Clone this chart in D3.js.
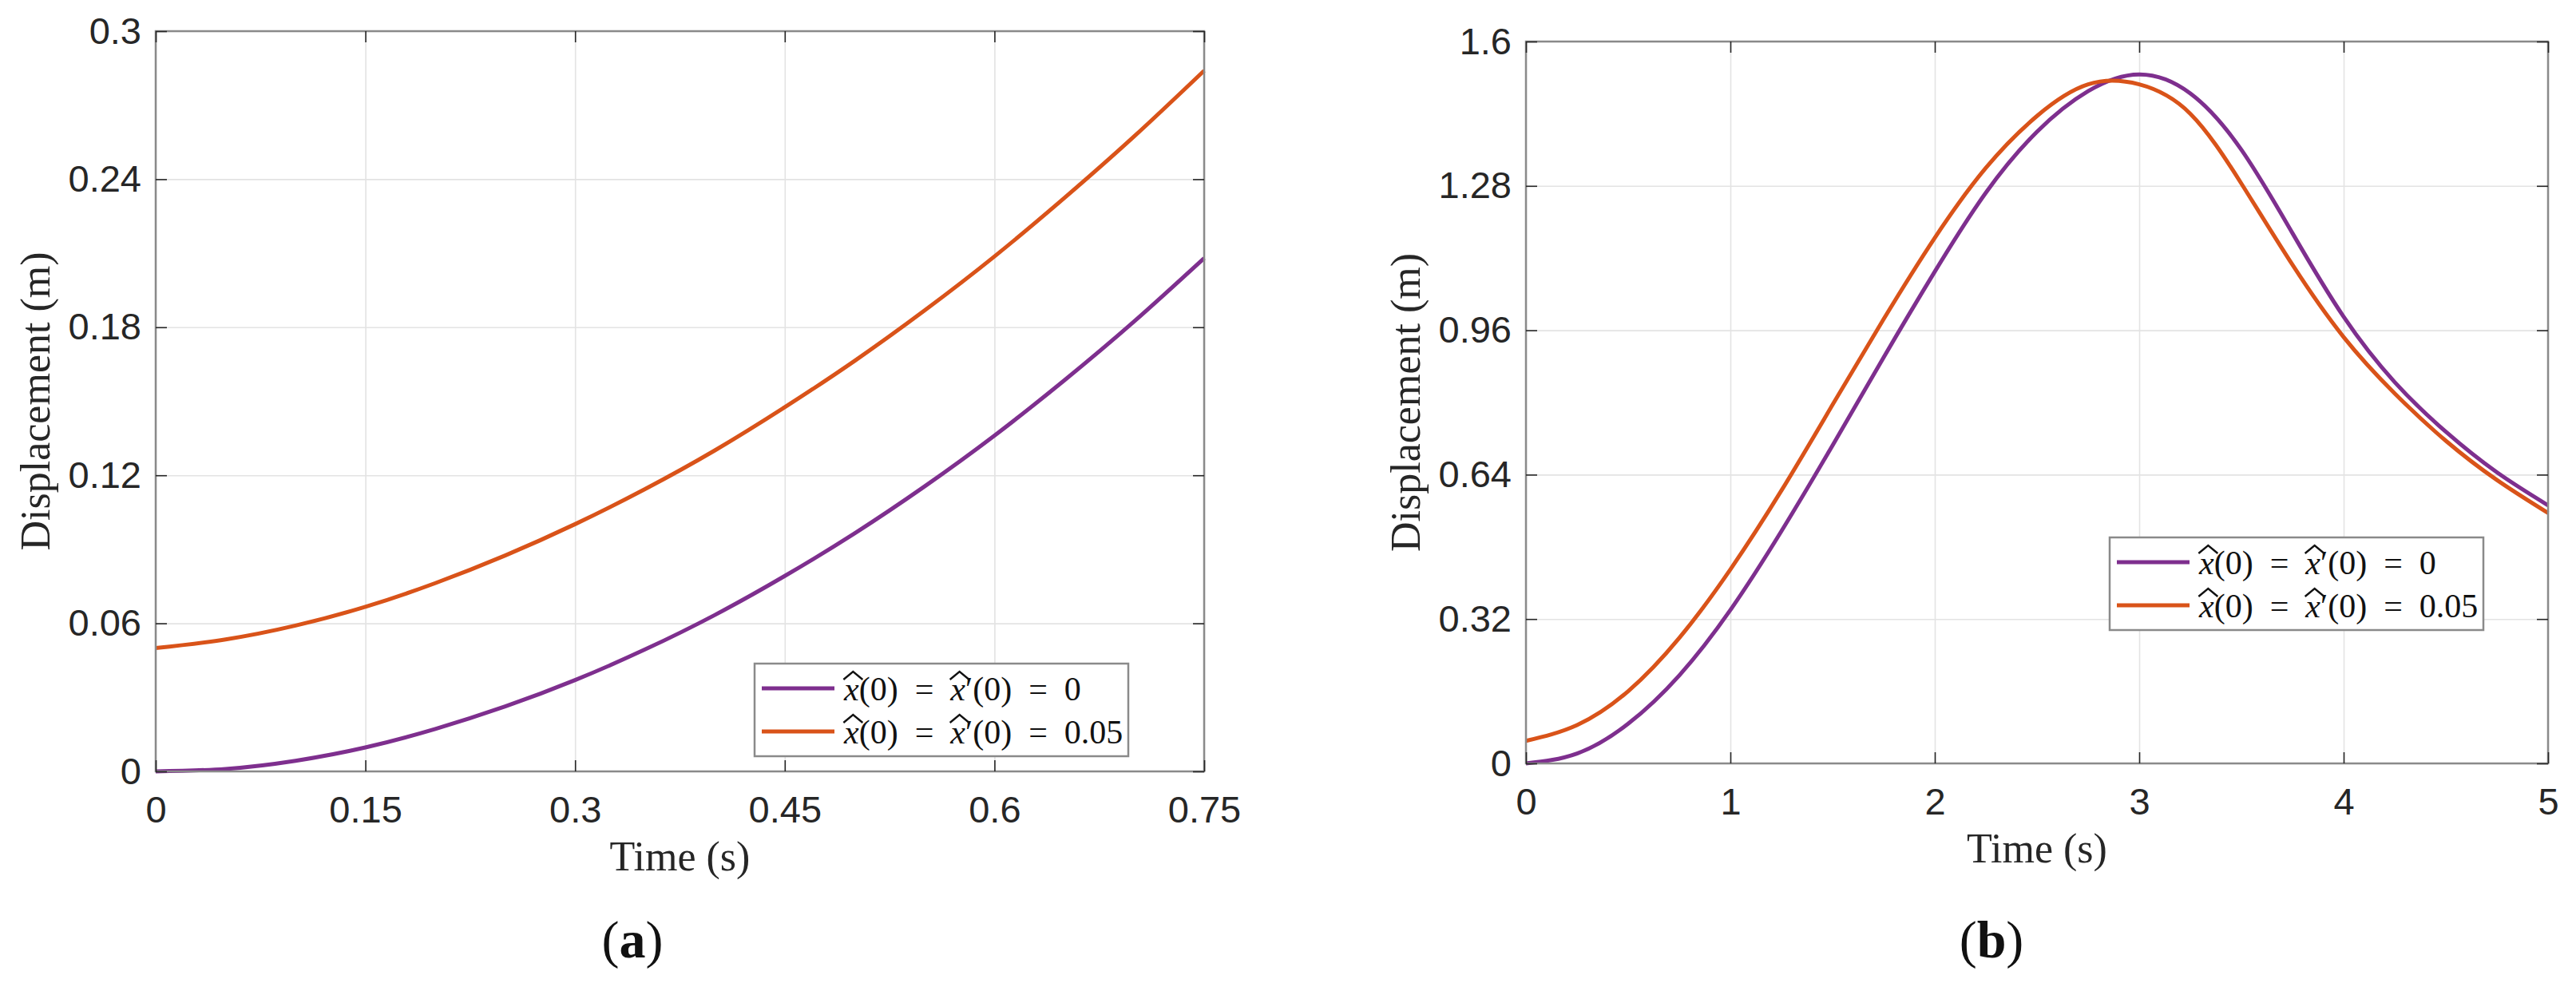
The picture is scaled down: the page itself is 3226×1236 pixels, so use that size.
<!DOCTYPE html>
<html>
<head>
<meta charset="utf-8">
<script src="https://cdn.jsdelivr.net/npm/d3@7"></script>
<style>
  body { margin: 0; background: #fff; }
  svg { display: block; }
</style>
</head>
<body>
<svg id="fig"></svg>
<script>
// panel (a): short window
const timeA = [0, 0.05, 0.1, 0.15, 0.2, 0.25, 0.3, 0.35, 0.4, 0.45, 0.5, 0.55, 0.6, 0.65, 0.7, 0.75];
const dispA_zero = [0, 0.0010, 0.0043, 0.0097, 0.0172, 0.0263, 0.0370, 0.0494, 0.0634, 0.0792, 0.0965, 0.1155, 0.1361, 0.1585, 0.1824, 0.2080];
const dispA_005 = [0.05, 0.0535, 0.0591, 0.0667, 0.0763, 0.0875, 0.1002, 0.1144, 0.1301, 0.1476, 0.1664, 0.1868, 0.2087, 0.2324, 0.2574, 0.2840];
const xTicksA = [0, 0.15, 0.3, 0.45, 0.6, 0.75];
const yTicksA = [0, 0.06, 0.12, 0.18, 0.24, 0.3];

// panel (b): long window
const timeB = [0, 0.25, 0.5, 0.75, 1, 1.25, 1.5, 1.75, 2, 2.25, 2.5, 2.75, 3, 3.25, 3.5, 3.75, 4, 4.25, 4.5, 4.75, 5];
const dispB_zero = [0, 0.022, 0.088, 0.195, 0.34, 0.515, 0.705, 0.90, 1.09, 1.265, 1.40, 1.49, 1.527, 1.485, 1.36, 1.175, 0.99, 0.845, 0.735, 0.645, 0.572];
const dispB_005 = [0.05, 0.085, 0.16, 0.278, 0.43, 0.605, 0.795, 0.985, 1.165, 1.32, 1.435, 1.505, 1.505, 1.44, 1.285, 1.105, 0.945, 0.82, 0.715, 0.628, 0.555];
const xTicksB = [0, 1, 2, 3, 4, 5];
const yTicksB = [0, 0.32, 0.64, 0.96, 1.28, 1.6];

const seriesColors = ["#7E2F8E", "#D95319"];
const seriesEnds = ["0", "0.05"];

const W = 3226, H = 1236;
const svg = d3.select("#fig").attr("width", W).attr("height", H);
svg.append("rect").attr("width", W).attr("height", H).attr("fill", "#fff");

const SANS = "'Liberation Sans', Arial, Helvetica, sans-serif";
const SERIF = "'Liberation Serif', 'Times New Roman', serif";
const INK = "#262626";
const BOX = "#8a8a8a";
const GRID = "#e3e3e3";
const EQ = "\u2002=\u2002";

function drawPanel(cfg) {
  const g = svg.append("g").attr("transform", `translate(${cfg.left},${cfg.top})`);
  const x = d3.scaleLinear().domain(cfg.xDomain).range([0, cfg.w]);
  const y = d3.scaleLinear().domain(cfg.yDomain).range([cfg.h, 0]);

  // grid
  const grid = g.append("g");
  grid.append("g").call(d3.axisBottom(x).tickValues(cfg.xTicks).tickSize(cfg.h).tickFormat(""))
    .call(s => s.select(".domain").remove())
    .call(s => s.selectAll("line").attr("stroke", GRID).attr("stroke-width", 1.6));
  grid.append("g").call(d3.axisLeft(y).tickValues(cfg.yTicks).tickSize(-cfg.w).tickFormat(""))
    .call(s => s.select(".domain").remove())
    .call(s => s.selectAll("line").attr("stroke", GRID).attr("stroke-width", 1.6));

  // curves
  const line = d3.line()
    .x((d, i) => x(cfg.time[i]))
    .y(d => y(d))
    .curve(d3.curveNatural);
  cfg.series.forEach((vals, k) => {
    g.append("path").datum(vals)
      .attr("fill", "none")
      .attr("stroke", seriesColors[k])
      .attr("stroke-width", 5)
      .attr("stroke-linejoin", "round")
      .attr("d", line);
  });

  // box
  g.append("rect").attr("width", cfg.w).attr("height", cfg.h)
    .attr("fill", "none").attr("stroke", BOX).attr("stroke-width", 2.5);

  // ticks (inward, mirrored) + labels
  const fmt = d => String(d);
  const styleAxis = s => {
    s.select(".domain").remove();
    s.selectAll("line").attr("stroke", INK).attr("stroke-width", 1.6);
    s.selectAll("text").attr("fill", INK).style("font-family", SANS).style("font-size", "47px");
  };
  g.append("g").attr("transform", `translate(0,${cfg.h})`)
    .call(d3.axisBottom(x).tickValues(cfg.xTicks).tickSize(-14).tickPadding(31).tickFormat(fmt))
    .call(styleAxis);
  g.append("g")
    .call(d3.axisTop(x).tickValues(cfg.xTicks).tickSize(-14).tickFormat(""))
    .call(styleAxis);
  g.append("g")
    .call(d3.axisLeft(y).tickValues(cfg.yTicks).tickSize(-14).tickPadding(18).tickFormat(fmt))
    .call(styleAxis);
  g.append("g").attr("transform", `translate(${cfg.w},0)`)
    .call(d3.axisRight(y).tickValues(cfg.yTicks).tickSize(-14).tickFormat(""))
    .call(styleAxis);

  // axis titles
  g.append("text")
    .attr("x", cfg.w / 2).attr("y", cfg.h + 124)
    .attr("text-anchor", "middle")
    .attr("fill", INK)
    .style("font-family", SERIF).style("font-size", "52px")
    .text("Time (s)");
  g.append("text")
    .attr("transform", `translate(-133,${cfg.h / 2}) rotate(-90)`)
    .attr("text-anchor", "middle")
    .attr("fill", INK)
    .style("font-family", SERIF).style("font-size", "52px")
    .text("Displacement (m)");

  // legend
  const lg = g.append("g").attr("transform", `translate(${cfg.legX},${cfg.legY})`);
  lg.append("rect").attr("width", 468).attr("height", 116)
    .attr("fill", "#fff").attr("stroke", BOX).attr("stroke-width", 2.5);
  seriesEnds.forEach((end, k) => {
    const cy = 31 + k * 54;
    lg.append("line").attr("x1", 9).attr("x2", 100).attr("y1", cy).attr("y2", cy)
      .attr("stroke", seriesColors[k]).attr("stroke-width", 5);
    const parts = [
      { t: "x", it: true },
      { t: "(0)" + EQ },
      { t: "x", it: true },
      { t: "\u2032(0)" + EQ + end }
    ];
    const base = cy + 15;
    const txt = lg.append("text")
      .attr("x", 112).attr("y", base)
      .attr("fill", "#111")
      .style("font-family", SERIF).style("font-size", "42px");
    const hatIdx = [];
    let n = 0;
    parts.forEach(p => {
      if (p.it) hatIdx.push(n);
      txt.append("tspan").style("font-style", p.it ? "italic" : "normal").text(p.t);
      n += p.t.length;
    });
    // wide hats over the x's
    hatIdx.forEach(i => {
      const ext = txt.node().getExtentOfChar(i);
      const cx = ext.x + ext.width / 2 + 2;
      lg.append("path")
        .attr("d", `M${cx - 12},${base - 26} L${cx},${base - 36} L${cx + 12},${base - 26}`)
        .attr("fill", "none").attr("stroke", "#111").attr("stroke-width", 2.4);
    });
  });

  // panel label
  const pl = svg.append("text")
    .attr("x", cfg.labelX).attr("y", 1199)
    .attr("text-anchor", "middle")
    .attr("fill", "#111")
    .style("font-family", SERIF).style("font-size", "66px");
  pl.append("tspan").text("(");
  pl.append("tspan").style("font-weight", "bold").text(cfg.label);
  pl.append("tspan").text(")");
}

drawPanel({
  left: 195, top: 39, w: 1313, h: 927,
  xDomain: [0, 0.75], yDomain: [0, 0.3],
  xTicks: xTicksA, yTicks: yTicksA,
  time: timeA, series: [dispA_zero, dispA_005],
  legX: 750, legY: 792,
  label: "a", labelX: 792
});

drawPanel({
  left: 1911, top: 52, w: 1280, h: 904,
  xDomain: [0, 5], yDomain: [0, 1.6],
  xTicks: xTicksB, yTicks: yTicksB,
  time: timeB, series: [dispB_zero, dispB_005],
  legX: 731, legY: 621,
  label: "b", labelX: 2494
});
</script>
</body>
</html>
